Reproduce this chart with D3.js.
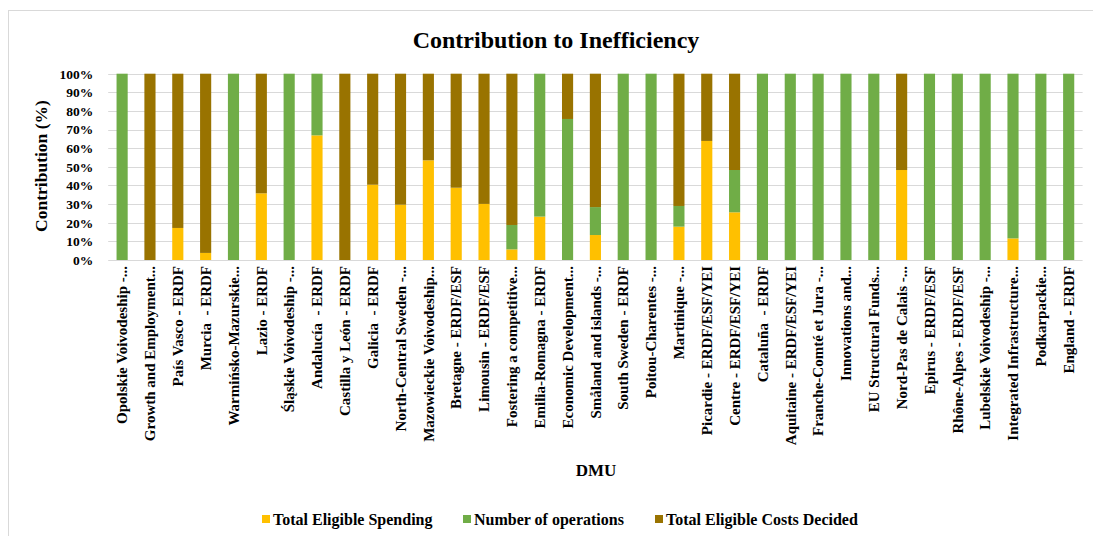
<!DOCTYPE html>
<html>
<head>
<meta charset="utf-8">
<script src="https://cdn.jsdelivr.net/npm/d3@7"></script>
<style>
  body { margin: 0; background: #fff; }
  svg text { font-family: "Liberation Serif", "Times New Roman", serif; font-weight: bold; fill: #000; }
</style>
</head>
<body>
<svg id="chart" width="1093" height="536"></svg>
<script>
const dmus = [
  "Opolskie Voivodeship -...", "Growth and Employment...", "País Vasco - ERDF", "Murcia  - ERDF",
  "Warmińsko-Mazurskie...", "Lazio - ERDF", "Śląskie Voivodeship -...", "Andalucía  - ERDF",
  "Castilla y León - ERDF", "Galicia  - ERDF", "North-Central Sweden -...", "Mazowieckie Voivodeship...",
  "Bretagne - ERDF/ESF", "Limousin - ERDF/ESF", "Fostering a competitive...", "Emilia-Romagna - ERDF",
  "Economic Development...", "Småland and islands -...", "South Sweden - ERDF", "Poitou-Charentes -...",
  "Martinique -...", "Picardie - ERDF/ESF/YEI", "Centre - ERDF/ESF/YEI", "Cataluña  - ERDF",
  "Aquitaine - ERDF/ESF/YEI", "Franche-Comté et Jura -...", "Innovations and...", "EU Structural Funds...",
  "Nord-Pas de Calais -...", "Epirus - ERDF/ESF", "Rhône-Alpes - ERDF/ESF", "Lubelskie Voivodeship -...",
  "Integrated Infrastructure...", "Podkarpackie...", "England - ERDF"
];
// contribution (%) per input
const spending = [0, 0, 17.2, 3.8, 0, 35.8, 0, 66.9, 0, 40.4, 29.7, 53.5, 38.8, 30.1, 5.7, 23.3,
  0, 13.4, 0, 0, 17.9, 63.9, 25.6, 0, 0, 0, 0, 0, 48.3, 0, 0, 0, 11.6, 0, 0];
const operations = [100, 0, 0, 0, 100, 0, 100, 33.1, 0, 0, 0, 0, 0, 0, 13.1, 76.7,
  75.7, 15.0, 100, 100, 11.1, 0, 22.7, 100, 100, 100, 100, 100, 0, 100, 100, 100, 88.4, 100, 100];
const costs = [0, 100, 82.8, 96.2, 0, 64.2, 0, 0, 100, 59.6, 70.3, 46.5, 61.2, 69.9, 81.2, 0,
  24.3, 71.6, 0, 0, 71.0, 36.1, 51.7, 0, 0, 0, 0, 0, 51.7, 0, 0, 0, 0, 0, 0];
const seriesNames = ["Total Eligible Spending", "Number of operations", "Total Eligible Costs Decided"];
const yTicks = [0, 10, 20, 30, 40, 50, 60, 70, 80, 90, 100];

const colors = ["#FFC000", "#70AD47", "#997300"];
const keys = ["spending", "operations", "costs"];
const rows = dmus.map((d, i) => ({ dmu: d, spending: spending[i], operations: operations[i], costs: costs[i] }));

const svg = d3.select("#chart");
const margin = { top: 73.7, left: 108.2, right: 1082.6, bottom: 260 };

// outer chart border
svg.append("rect")
  .attr("x", 8.5).attr("y", 10.5)
  .attr("width", 1100).attr("height", 540)
  .attr("fill", "#fff").attr("stroke", "#d9d9d9").attr("stroke-width", 1);

const x = d3.scaleBand().domain(dmus).range([margin.left, margin.right]).paddingInner(0.6).paddingOuter(0.3);
const y = d3.scaleLinear().domain([0, 100]).range([margin.bottom, margin.top]);

// gridlines
svg.append("g")
  .selectAll("line")
  .data(yTicks)
  .join("line")
  .attr("x1", margin.left).attr("x2", margin.right)
  .attr("y1", (d) => Math.round(y(d)) + 0.5).attr("y2", (d) => Math.round(y(d)) + 0.5)
  .attr("stroke", "#d9d9d9").attr("stroke-width", 1);

// y axis
const yAxis = (g) =>
  g.attr("transform", `translate(${margin.left},0)`)
    .call(d3.axisLeft(y).tickValues(yTicks).tickSize(0).tickPadding(15).tickFormat((d) => d + "%"))
    .call((g) => g.select(".domain").remove())
    .call((g) => g.selectAll("text").attr("font-size", 13.5).attr("font-family", null));
svg.append("g").call(yAxis);

// stacked bars
const stacked = d3.stack().keys(keys)(rows);
svg.append("g")
  .selectAll("g")
  .data(stacked)
  .join("g")
  .attr("fill", (d, i) => colors[i])
  .selectAll("rect")
  .data((d) => d)
  .join("rect")
  .attr("x", (d) => x(d.data.dmu))
  .attr("width", x.bandwidth())
  .attr("y", (d) => y(d[1]))
  .attr("height", (d) => y(d[0]) - y(d[1]));

// x axis
const xAxis = (g) =>
  g.attr("transform", `translate(0,${margin.bottom})`)
    .call(d3.axisBottom(x).tickSize(0).tickPadding(0))
    .call((g) => g.select(".domain").remove())
    .call((g) => g.selectAll("text")
      .attr("font-size", 15).attr("font-family", null)
      .attr("transform", "rotate(-90)")
      .attr("text-anchor", "end")
      .attr("x", -6).attr("y", 0).attr("dy", "0.35em")
      .style("white-space", "pre"));
svg.append("g").call(xAxis);

// titles
svg.append("text")
  .attr("x", 556).attr("y", 48)
  .attr("text-anchor", "middle").attr("font-size", 24)
  .text("Contribution to Inefficiency");

svg.append("text")
  .attr("transform", "translate(47,166) rotate(-90)")
  .attr("text-anchor", "middle").attr("font-size", 17.5)
  .text("Contribution (%)");

svg.append("text")
  .attr("x", 596).attr("y", 476)
  .attr("text-anchor", "middle").attr("font-size", 17)
  .text("DMU");

// legend
const legendX = [262, 463, 655];
const legend = svg.append("g")
  .selectAll("g")
  .data(seriesNames)
  .join("g")
  .attr("transform", (d, i) => `translate(${legendX[i]},519)`);
legend.append("rect")
  .attr("x", 0).attr("y", -4).attr("width", 8).attr("height", 8)
  .attr("fill", (d, i) => colors[i]);
legend.append("text")
  .attr("x", 11).attr("dy", "0.35em").attr("font-size", 16)
  .text((d) => d);
</script>
</body>
</html>
